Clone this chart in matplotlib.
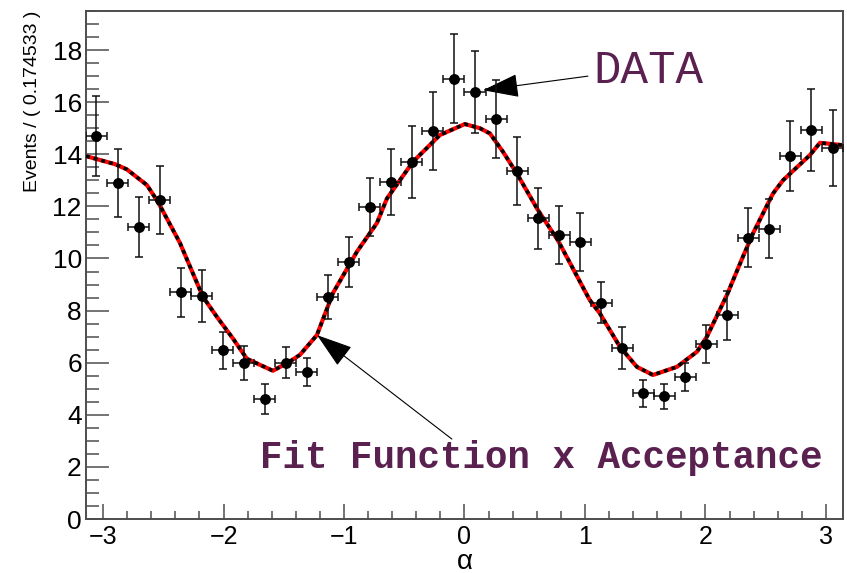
import numpy as np
import matplotlib.pyplot as plt
from matplotlib.ticker import MultipleLocator

# binning of the alpha histogram (36 bins over -pi..pi)
n_bins = 36
bin_width = 2 * np.pi / n_bins
edges = np.linspace(-np.pi, np.pi, n_bins + 1)
centers = 0.5 * (edges[:-1] + edges[1:])

# weighted event counts per bin and their errors
counts = [14.7, 12.9, 11.2, 12.25, 8.7, 8.55, 6.47, 6.0, 4.6, 6.0,
          5.64, 8.52, 9.86, 11.98, 12.94, 13.7, 14.9, 16.9, 16.38, 15.35,
          13.37, 11.55, 10.9, 10.63, 8.3, 6.57, 4.83, 4.72, 5.45, 6.7,
          7.83, 10.8, 11.14, 13.94, 14.93, 14.25]
errors = [1.55, 1.3, 1.15, 1.3, 0.94, 1.0, 0.7, 0.66, 0.58, 0.6,
          0.53, 0.84, 0.96, 1.1, 1.27, 1.37, 1.5, 1.7, 1.58, 1.5,
          1.3, 1.17, 1.1, 1.1, 0.78, 0.8, 0.52, 0.48, 0.52, 0.73,
          0.94, 1.12, 1.14, 1.35, 1.56, 1.45]

# fit function x acceptance, as sampled curve
fit_alpha = [-3.1416, -2.900, -2.802, -2.636, -2.545, -2.362, -2.171, -2.055,
             -1.922, -1.806, -1.590, -1.449, -1.366, -1.225, -1.092, -0.893,
             -0.727, -0.644, -0.428, -0.204, 0.003, 0.128, 0.211, 0.319,
             0.435, 0.609, 0.775, 1.040, 1.124, 1.290, 1.431, 1.564,
             1.763, 1.929, 2.012, 2.178, 2.311, 2.394, 2.560, 2.643,
             2.867, 2.950, 3.1416]
fit_vals = [13.93, 13.62, 13.42, 12.82, 12.18, 10.6, 8.53, 7.76,
            6.93, 6.15, 5.69, 6.05, 6.3, 7.06, 8.67, 10.26,
            11.36, 12.3, 13.71, 14.74, 15.16, 15.0, 14.8, 14.1,
            13.26, 11.86, 10.7, 8.4, 7.89, 6.61, 5.84, 5.53,
            5.84, 6.42, 7.0, 8.6, 10.07, 10.96, 12.49, 13.0,
            13.97, 14.44, 14.35]

x_ticks = [-3, -2, -1, 0, 1, 2, 3]
x_ticklabels = ['\u22123', '\u22122', '\u22121', '0', '1', '2', '3']
y_ticks = [0, 2, 4, 6, 8, 10, 12, 14, 16, 18]

label_color = '#5a2150'
axis_color = '#4d4d4d'

plt.rcParams['font.family'] = ['Liberation Sans', 'DejaVu Sans']
plt.rcParams['mathtext.fontset'] = 'custom'
plt.rcParams['mathtext.it'] = 'Liberation Sans'
plt.rcParams['mathtext.rm'] = 'Liberation Sans'

fig = plt.figure(figsize=(8.47, 5.73), dpi=100)
ax = fig.add_axes([0.1015, 0.0942, 0.8938, 0.8866])

# fit curve: red solid with black dotted overlay
ax.plot(fit_alpha, fit_vals, color='red', lw=3.0, solid_capstyle='butt', zorder=2)
ax.plot(fit_alpha, fit_vals, color='black', lw=2.6, linestyle=(0, (1.1, 1.1)), zorder=3)

# data points
ax.errorbar(centers, counts, yerr=errors, xerr=bin_width / 2, fmt='o',
            color='black', ms=6.8, elinewidth=1.1, capsize=2.6, capthick=1.1,
            ecolor='#111111', zorder=4)

ax.set_xlim(-np.pi, np.pi)
ax.set_ylim(0, 19.5)
ax.set_xticks(x_ticks)
ax.set_xticklabels(x_ticklabels)
ax.set_yticks(y_ticks)
ax.xaxis.set_minor_locator(MultipleLocator(0.2))
ax.yaxis.set_minor_locator(MultipleLocator(0.5))

ax.tick_params(axis='both', which='both', direction='in', color=axis_color,
               width=1.1, top=False, right=False, labelsize=19)
ax.tick_params(axis='x', labelsize=18)
ax.tick_params(axis='y', which='major', length=16.5, pad=3)
ax.tick_params(axis='y', which='minor', length=9.4)
ax.tick_params(axis='x', which='major', length=10.8, pad=4)
ax.tick_params(axis='x', which='minor', length=5.8)

for sp in ax.spines.values():
    sp.set_color(axis_color)
    sp.set_linewidth(1.4)

# axis titles
ax.set_xlabel(r'$\mathrm{\alpha}$', fontsize=20, labelpad=0)
fig.text(0.038, 0.981, 'Events / ( 0.174533 )', rotation=90,
         ha='center', va='top', fontsize=14)

# annotations
ax.annotate('', xy=(0.153, 16.46), xytext=(1.024, 17.0),
            arrowprops=dict(arrowstyle='-|>,head_length=2.3,head_width=0.75',
                            mutation_scale=10, color='black', lw=0.8,
                            shrinkA=0, shrinkB=0))
ax.text(1.07, 16.75, 'DATA', family='Liberation Mono', fontsize=33,
        color=label_color, ha='left', va='baseline')

ax.annotate('', xy=(-1.224, 7.06), xytext=(-0.105, 3.07),
            arrowprops=dict(arrowstyle='-|>,head_length=2.3,head_width=0.75',
                            mutation_scale=10, color='black', lw=0.8,
                            shrinkA=0, shrinkB=0))
ax.text(-1.70, 1.96, 'Fit Function x Acceptance', family='Liberation Mono',
        fontweight='bold', fontsize=27, color=label_color,
        ha='left', va='baseline')

fig.savefig('out.png', dpi=100, facecolor='white')
